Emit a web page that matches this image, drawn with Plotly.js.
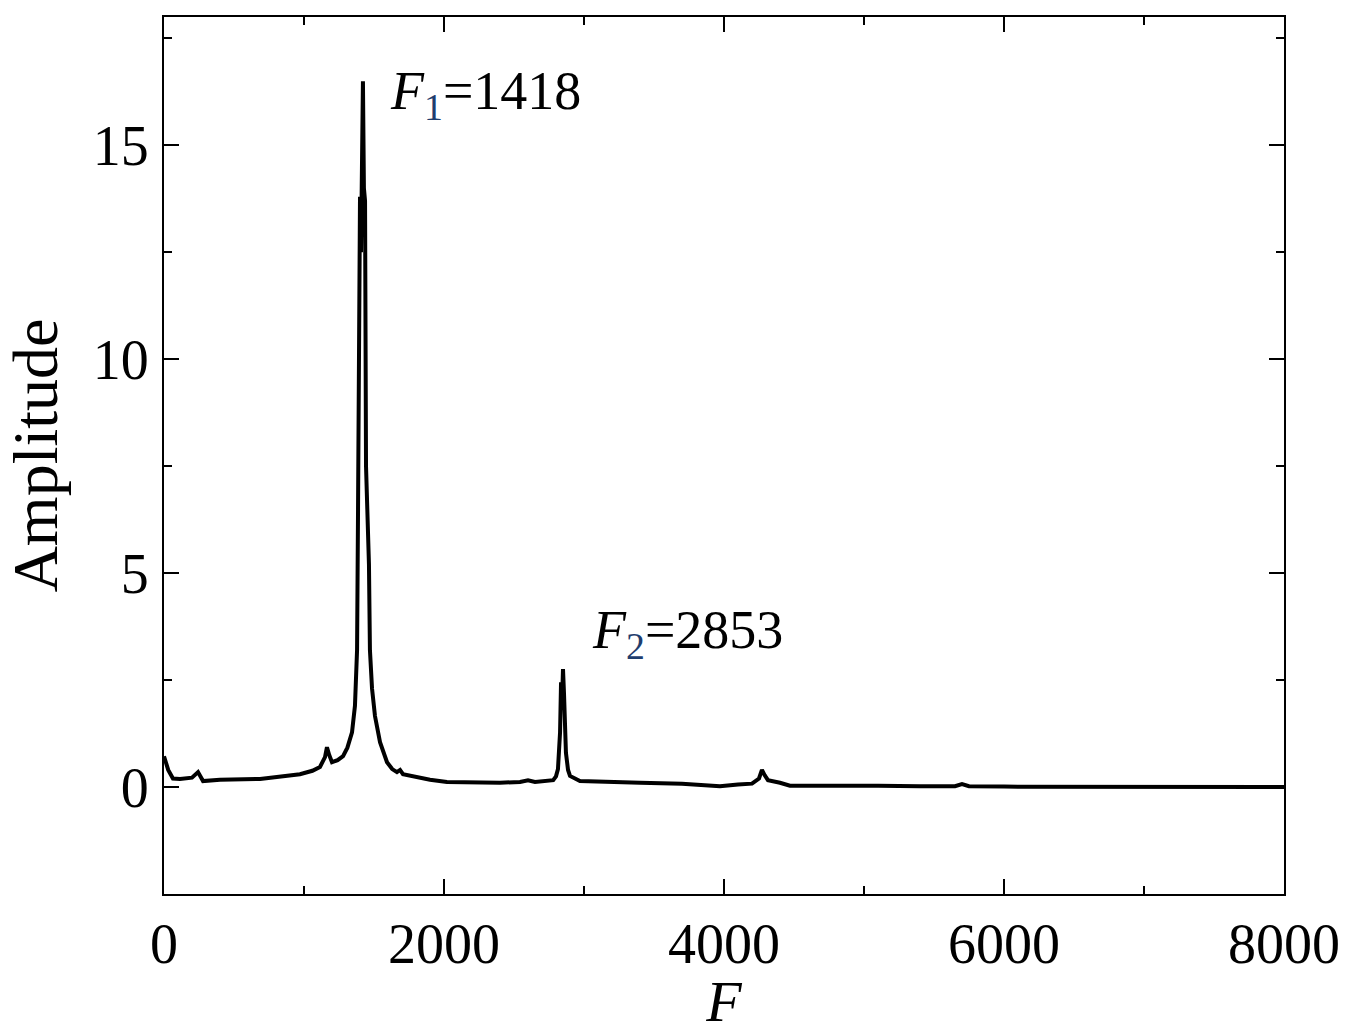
<!DOCTYPE html>
<html>
<head>
<meta charset="utf-8">
<script src="https://cdn.plot.ly/plotly-3.0.1.min.js"></script>
<style>
  body { margin: 0; background: #fff; }
  #plot { width: 1350px; height: 1034px; }
</style>
</head>
<body>
<div id="plot"></div>
<script>
// spectrum: frequency F and amplitude
var freq = [0, 30, 64, 114, 200, 243, 279, 400, 686, 850, 971, 1060, 1114, 1150, 1164, 1180, 1200, 1240, 1279, 1310,
  1343, 1364, 1372, 1379, 1386, 1393, 1400, 1407, 1414, 1421, 1428, 1436, 1443, 1450, 1457, 1464, 1471, 1486, 1507, 1543,
  1593, 1630, 1664, 1686, 1707, 1807, 1900, 2021, 2200, 2400, 2543, 2600, 2650, 2780, 2800, 2814, 2829, 2836, 2843, 2850,
  2857, 2864, 2871, 2886, 2900, 2971, 3114, 3400, 3700, 3971, 4100, 4200, 4250, 4271, 4290, 4314, 4400, 4471, 4700, 4900,
  5100, 5400, 5650, 5700, 5750, 6000, 6500, 7000, 7500, 8000];
var amp = [0.72, 0.4, 0.2, 0.19, 0.22, 0.35, 0.14, 0.17, 0.19, 0.24, 0.30, 0.38, 0.47, 0.7, 0.93, 0.75, 0.58, 0.63, 0.72, 0.92,
  1.28, 1.9, 2.4, 3.2, 6.5, 11.9, 13.8, 12.5, 16.0, 16.5, 14.0, 13.7, 7.5, 6.6, 6.0, 5.2, 3.2, 2.3, 1.66, 1.05,
  0.58, 0.42, 0.35, 0.40, 0.30, 0.23, 0.17, 0.12, 0.1, 0.1, 0.12, 0.16, 0.12, 0.16, 0.25, 0.42, 1.28, 2.45, 2.0, 2.76,
  2.2, 1.6, 0.8, 0.4, 0.26, 0.14, 0.12, 0.1, 0.08, 0.02, 0.06, 0.08, 0.2, 0.4, 0.28, 0.16, 0.1, 0.03, 0.03, 0.02,
  0.03, 0.02, 0.02, 0.07, 0.02, 0.01, 0.01, 0.0, 0.0, 0.0];

// peak labels
var peakNames = ['1', '2'];
var peakValues = [1418, 2853];
var labelX = [1600, 3043];
var labelY = [16.2, 3.6];

var xTicks = [0, 2000, 4000, 6000, 8000];
var yTicks = [0, 5, 10, 15];

var serif = 'Liberation Serif, Times New Roman, serif';

var data = [{
  x: freq,
  y: amp,
  type: 'scatter',
  mode: 'lines',
  line: { color: '#000', width: 4 },
  hoverinfo: 'skip'
}];

var annotations = [];
for (var i = 0; i < peakNames.length; i++) {
  annotations.push({
    x: labelX[i], y: labelY[i], xref: 'x', yref: 'y',
    xanchor: 'left', yanchor: 'middle', showarrow: false,
    text: '<i>F</i><sub><span style="color:#1f3d6e">' + peakNames[i] + '</span></sub>=' + peakValues[i],
    font: { family: serif, size: 54, color: '#000' }
  });
}

var axisCommon = {
  showline: true, linecolor: '#000', linewidth: 2,
  mirror: 'allticks', ticks: 'inside', ticklen: 15, tickwidth: 2, tickcolor: '#000',
  showgrid: false, zeroline: false,
  tickfont: { family: serif, size: 56, color: '#000' }
};

var layout = {
  width: 1350, height: 1034,
  margin: { l: 164, r: 66, t: 17, b: 140 },
  paper_bgcolor: '#fff', plot_bgcolor: '#fff',
  showlegend: false,
  xaxis: Object.assign({}, axisCommon, {
    range: [0, 8000], tickvals: xTicks, ticklabelstandoff: 0,
    minor: { dtick: 1000, ticks: 'inside', ticklen: 8, tickwidth: 2, tickcolor: '#000' },
    title: { text: '<i>F</i>', font: { family: serif, size: 58, color: '#000' }, standoff: 35 }
  }),
  yaxis: Object.assign({}, axisCommon, {
    range: [-2.5, 18], tickvals: yTicks, ticklabelstandoff: 2,
    minor: { dtick: 2.5, ticks: 'inside', ticklen: 8, tickwidth: 2, tickcolor: '#000' },
    title: { text: 'Amplitude', font: { family: serif, size: 64, color: '#000' }, standoff: 24 }
  }),
  annotations: annotations
};

Plotly.newPlot('plot', data, layout, { staticPlot: true });
</script>
</body>
</html>
